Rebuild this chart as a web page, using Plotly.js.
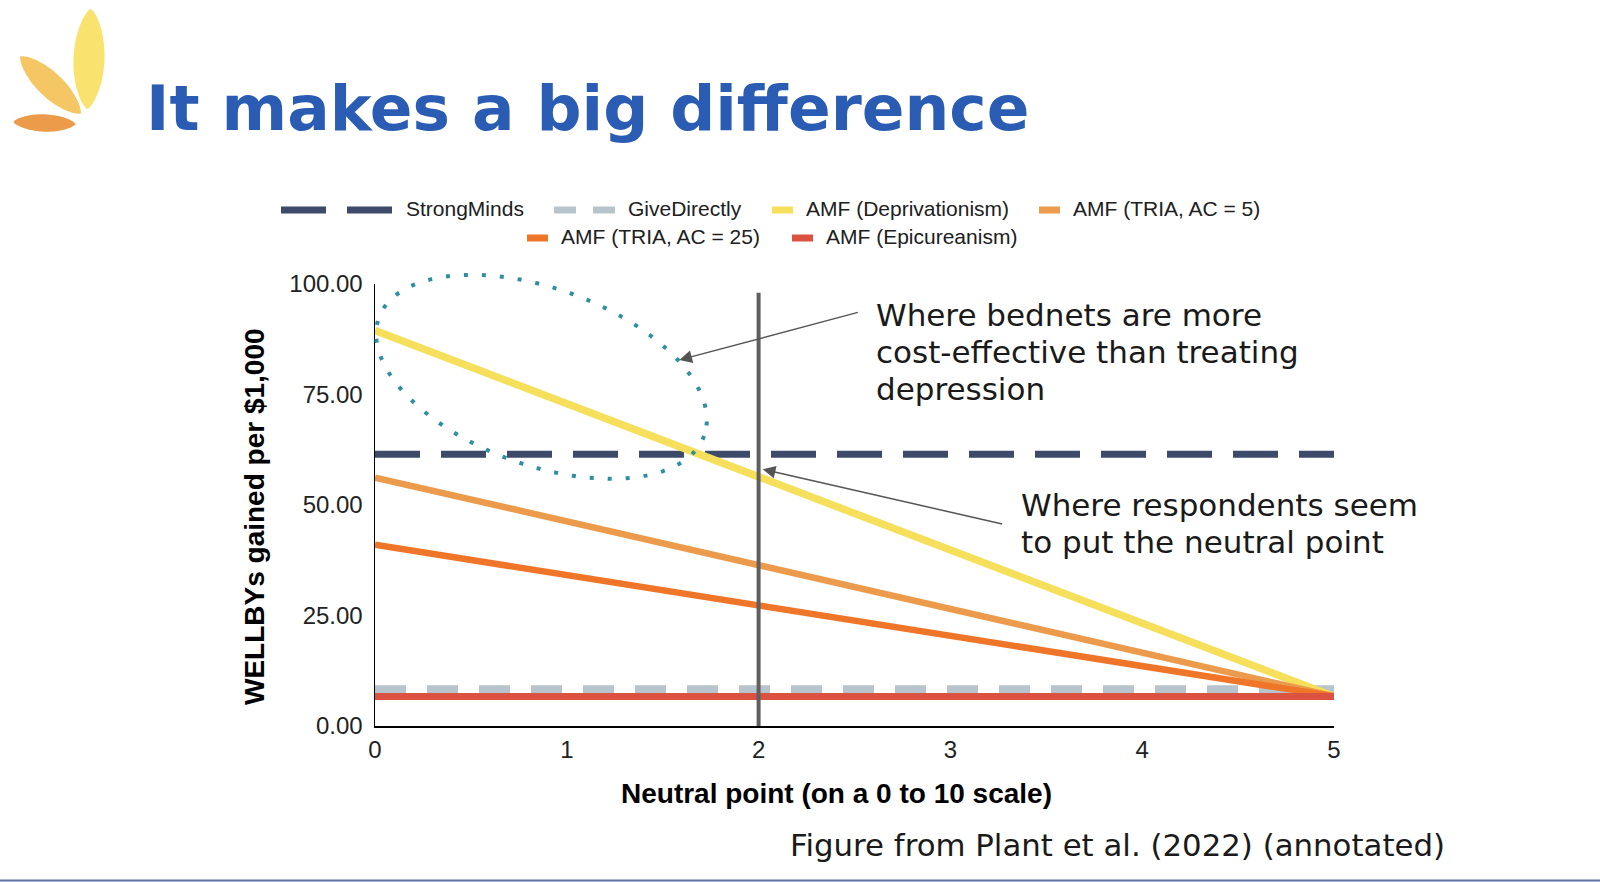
<!DOCTYPE html>
<html><head><meta charset="utf-8">
<script src="https://cdn.plot.ly/plotly-3.0.1.min.js"></script>
<style>html,body{margin:0;padding:0;background:#fff;overflow:hidden;} #chart{width:1600px;height:882px;}</style>
</head><body><div id="chart"></div>
<script>
// ---------------- data ----------------
const neutralPoints     = [0, 1, 2, 3, 4, 5];
const strongMinds       = [61.5, 61.5, 61.5, 61.5, 61.5, 61.5];
const giveDirectly      = [8.3, 8.3, 8.3, 8.3, 8.3, 8.3];
const amfDeprivationism = [89.5, 73.0, 56.4, 39.8, 23.2, 6.7];
const amfTria5          = [56.2, 46.3, 36.4, 26.5, 16.6, 6.7];
const amfTria25         = [41.0, 34.1, 27.3, 20.4, 13.6, 6.7];
const amfEpicureanism   = [6.7, 6.7, 6.7, 6.7, 6.7, 6.7];
const seriesNames = ['StrongMinds', 'GiveDirectly', 'AMF (Deprivationism)',
                     'AMF (TRIA, AC = 5)', 'AMF (TRIA, AC = 25)', 'AMF (Epicureanism)'];
const xTickVals  = [0, 1, 2, 3, 4, 5];
const xTickText  = ['0', '1', '2', '3', '4', '5'];
const yTickVals  = [0, 25, 50, 75, 100];
const yTickText  = ['0.00', '25.00', '50.00', '75.00', '100.00'];
const neutralPointMarker = 2;
const xTitle = 'Neutral point (on a 0 to 10 scale)';
const yTitle = 'WELLBYs gained per $1,000';

// ---------------- styles ----------------
const seriesValues = [strongMinds, giveDirectly, amfDeprivationism, amfTria5, amfTria25, amfEpicureanism];
const colors = ['#3e4a6a', '#b8c4cc', '#f5df5b', '#eb9b4b', '#ef7629', '#dc5240'];
const dashes = ['45px,21px', '31px,21px', 'solid', 'solid', 'solid', 'solid'];
const widths = [7, 8, 7.5, 6.5, 6.5, 7];

const W = 1600, H = 882;
const PL = 375, PR = 1334, PT = 284, PB = 726;
const XMAX = 5, YMAX = 100;
const px = v => (v - PL) / (PR - PL);
const py = v => (PB - v) / (PB - PT);
const xs = (PR - PL) / XMAX, ys = (PB - PT) / YMAX;

const traces = seriesValues.map((vals, i) => ({
  type: 'scatter', mode: 'lines', x: neutralPoints, y: vals, name: seriesNames[i],
  line: {color: colors[i], width: widths[i], dash: dashes[i]},
  showlegend: false, hoverinfo: 'skip'
}));

const shapes = [];
const annotations = [];

// custom legend
const legendItems = [
  {x: 281, len: 112, row: 0, dash: '45px,21px'},
  {x: 554, len: 61, row: 0, dash: '22px,17px'},
  {x: 772, len: 21, row: 0, dash: 'solid'},
  {x: 1039, len: 21, row: 0, dash: 'solid'},
  {x: 527, len: 21, row: 1, dash: 'solid'},
  {x: 792, len: 21, row: 1, dash: 'solid'}
];
const rowY = [210, 238];
legendItems.forEach((it, i) => {
  shapes.push({type: 'line', xref: 'paper', yref: 'paper',
    x0: px(it.x), x1: px(it.x + it.len), y0: py(rowY[it.row]), y1: py(rowY[it.row]),
    line: {color: colors[i], width: 7, dash: it.dash}});
  annotations.push({xref: 'paper', yref: 'paper', x: px(it.x + it.len + 11), y: py(rowY[it.row] - 1),
    xanchor: 'left', yanchor: 'middle', showarrow: false, text: seriesNames[i],
    font: {family: 'Liberation Sans, Arial, sans-serif', size: 21, color: '#202020'}});
});

// helper: leaf / ellipse path in pixel space -> paper
function shapePath(cx, cy, a, b, deg, expo, n) {
  const th = deg * Math.PI / 180;
  let d = '';
  for (let k = 0; k <= n; k++) {
    const t = 2 * Math.PI * k / n;
    const u = a * Math.cos(t);
    const s = Math.sin(t);
    const r = 1 - Math.pow(Math.cos(t), 2);
    const v = b * Math.sign(s) * Math.pow(r, expo);
    const X = cx + u * Math.cos(th) - v * Math.sin(th);
    const Y = cy + u * Math.sin(th) + v * Math.cos(th);
    d += (k === 0 ? 'M' : 'L') + px(X).toFixed(5) + ',' + py(Y).toFixed(5);
  }
  return d + 'Z';
}

// logo leaves
shapes.push({type: 'path', xref: 'paper', yref: 'paper', path: shapePath(89, 59, 50, 15.5, -88, 0.72, 80),
  fillcolor: '#f9e26d', line: {width: 0}});
shapes.push({type: 'path', xref: 'paper', yref: 'paper', path: shapePath(50.5, 85, 41.5, 12.5, 43.4, 0.72, 80),
  fillcolor: '#f4c764', line: {width: 0}});
shapes.push({type: 'path', xref: 'paper', yref: 'paper', path: shapePath(44.5, 123, 31, 8.7, 2, 0.7, 80),
  fillcolor: '#ec9b4a', line: {width: 0}});

// dotted ellipse (centre given in data units)
const ellCx = PL + 0.868 * xs, ellCy = PB - 79.0 * ys;
shapes.push({type: 'path', xref: 'paper', yref: 'paper', layer: 'above',
  path: shapePath(ellCx, ellCy, 173, 88.4, 20, 0.5, 200),
  line: {color: '#2d8fa2', width: 4, dash: '4px,14px'}});

// vertical neutral point line
shapes.push({type: 'line', xref: 'x', yref: 'y', layer: 'above',
  x0: neutralPointMarker, x1: neutralPointMarker, y0: 0, y1: 98,
  line: {color: '#5f5f5f', width: 4}});

// bottom slide border
shapes.push({type: 'line', xref: 'paper', yref: 'paper', x0: px(0), x1: px(W), y0: py(880.5), y1: py(880.5),
  line: {color: '#5d6fa3', width: 2}});

// annotation texts
const noteFont = {family: 'DejaVu Sans, sans-serif', size: 31, color: '#1a1a1a'};
const note1 = ['Where bednets are more', 'cost-effective than treating', 'depression'];
const note1Y = [315, 352, 389];
note1.forEach((t, i) => annotations.push({xref: 'paper', yref: 'paper', x: px(875), y: py(note1Y[i]),
  xanchor: 'left', yanchor: 'middle', showarrow: false, text: t, font: noteFont, borderpad: 0}));
const note2 = ['Where respondents seem', 'to put the neutral point'];
const note2Y = [505, 542];
note2.forEach((t, i) => annotations.push({xref: 'paper', yref: 'paper', x: px(1020), y: py(note2Y[i]),
  xanchor: 'left', yanchor: 'middle', showarrow: false, text: t, font: noteFont, borderpad: 0}));

// arrows
annotations.push({xref: 'x', yref: 'y', x: (679.3 - PL) / xs, y: (PB - 360) / ys, text: '',
  showarrow: true, arrowhead: 2, arrowsize: 1.7, arrowwidth: 1.5, arrowcolor: '#555555',
  ax: 180, ay: -48, standoff: 0});
annotations.push({xref: 'x', yref: 'y', x: (762.7 - PL) / xs, y: (PB - 469.3) / ys, text: '',
  showarrow: true, arrowhead: 2, arrowsize: 1.7, arrowwidth: 1.5, arrowcolor: '#555555',
  ax: 241, ay: 55, standoff: 0});

// caption
annotations.push({xref: 'paper', yref: 'paper', x: px(788), y: py(845), xanchor: 'left', yanchor: 'middle',
  showarrow: false, text: 'Figure from Plant et al. (2022) (annotated)',
  font: {family: 'DejaVu Sans, sans-serif', size: 30.8, color: '#1a1a1a'}});

// axis titles
const titleFont = {family: 'Liberation Sans, Arial, sans-serif', size: 28, weight: 700, color: '#000000'};
annotations.push({xref: 'paper', yref: 'paper', x: px(836), y: py(793), xanchor: 'center', yanchor: 'middle',
  showarrow: false, text: xTitle, font: titleFont});
annotations.push({xref: 'paper', yref: 'paper', x: px(254), y: py(517), xanchor: 'center', yanchor: 'middle',
  showarrow: false, text: yTitle, textangle: -90, font: titleFont});

const tickFont = {family: 'Liberation Sans, Arial, sans-serif', size: 24, color: '#222222'};

const layout = {
  width: W, height: H,
  margin: {l: PL, r: W - PR, t: PT, b: H - PB, pad: 0},
  paper_bgcolor: '#ffffff', plot_bgcolor: '#ffffff',
  showlegend: false,
  title: {text: 'It makes a big difference', xref: 'container', yref: 'container',
    x: 146 / W, xanchor: 'left', y: 1 - 108 / H, yanchor: 'middle',
    font: {family: 'DejaVu Sans, sans-serif', size: 63, weight: 700, color: '#2b5cb3'}},
  xaxis: {range: [0, XMAX], autorange: false, fixedrange: true, showgrid: false, zeroline: false,
    showline: true, linecolor: '#000000', linewidth: 1.5, ticks: '', ticklabelstandoff: 2,
    tickvals: xTickVals, ticktext: xTickText, tickfont: tickFont, automargin: false},
  yaxis: {range: [0, YMAX], autorange: false, fixedrange: true, showgrid: false, zeroline: false,
    showline: true, linecolor: '#000000', linewidth: 1.5, ticks: '', ticklabelstandoff: 6,
    tickvals: yTickVals, ticktext: yTickText, tickfont: tickFont, automargin: false},
  shapes: shapes,
  annotations: annotations
};

Plotly.newPlot('chart', traces, layout, {staticPlot: true, displayModeBar: false});
</script></body></html>
